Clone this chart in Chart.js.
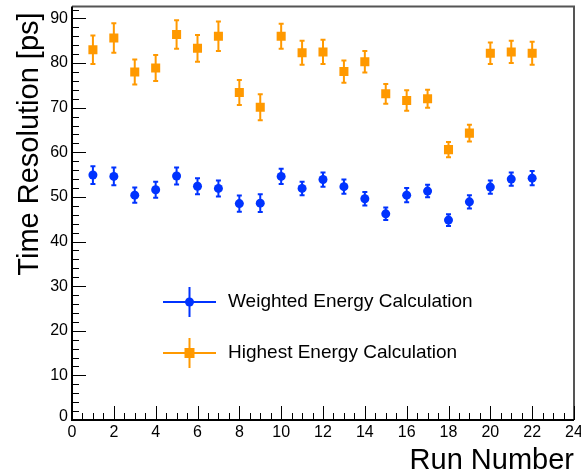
<!DOCTYPE html>
<html>
<head>
<meta charset="utf-8">
<script src="https://cdn.jsdelivr.net/npm/chart.js@4/dist/chart.umd.min.js"></script>
<style>
  html, body { margin: 0; padding: 0; background: #fff; }
  #wrap { width: 581px; height: 476px; }
</style>
</head>
<body>
<div id="wrap"><canvas id="myChart" width="581" height="476"></canvas></div>
<script>
// run numbers
const runs = [1, 2, 3, 4, 5, 6, 7, 8, 9, 10, 11, 12, 13, 14, 15, 16, 17, 18, 19, 20, 21, 22];

// weighted energy calculation (blue)
const weighted = [54.9, 54.6, 50.4, 51.6, 54.7, 52.4, 51.9, 48.5, 48.6, 54.6, 51.9, 53.9,
    52.3, 49.6, 46.2, 50.4, 51.3, 44.8, 48.9, 52.2, 54.0, 54.2];
const weightedErr = [2.0, 2.0, 1.7, 1.8, 1.9, 1.8, 1.8, 1.8, 2.0, 1.7, 1.5, 1.6,
    1.6, 1.5, 1.4, 1.6, 1.4, 1.3, 1.5, 1.5, 1.5, 1.6];

// highest energy calculation (orange)
const highest = [83.0, 85.6, 78.0, 78.9, 86.4, 83.3, 86.0, 73.4, 70.1, 86.0, 82.3, 82.5,
    78.1, 80.3, 73.1, 71.6, 72.0, 60.6, 64.3, 82.2, 82.5, 82.2];
const highestErr = [3.2, 3.3, 2.8, 2.9, 3.2, 3.0, 3.3, 2.8, 2.9, 2.8, 2.7, 2.7,
    2.5, 2.4, 2.2, 2.3, 2.0, 1.7, 1.9, 2.4, 2.5, 2.6];

const xTicks = [0, 2, 4, 6, 8, 10, 12, 14, 16, 18, 20, 22, 24];
const yTicks = [0, 10, 20, 30, 40, 50, 60, 70, 80, 90];

const BLUE = '#0033ff';
const ORANGE = '#ff9900';
const FONT = '"Liberation Sans", Arial, sans-serif';

function pts(ys, errs) {
    return runs.map((r, i) => ({x: r, y: ys[i], err: errs[i]}));
}

// error bars drawn with the chart's scales
const errorBars = {
    id: 'errorBars',
    beforeDatasetsDraw(chart) {
        const ctx = chart.ctx;
        const xs = chart.scales.x, ys = chart.scales.y;
        chart.data.datasets.forEach(ds => {
            ctx.save();
            ctx.strokeStyle = ds.borderColor;
            ctx.lineWidth = 2;
            ds.data.forEach(p => {
                const px = xs.getPixelForValue(p.x);
                const top = ys.getPixelForValue(p.y + p.err);
                const bot = ys.getPixelForValue(p.y - p.err);
                ctx.beginPath();
                ctx.moveTo(px, top); ctx.lineTo(px, bot);
                ctx.moveTo(px - 2.5, top); ctx.lineTo(px + 2.5, top);
                ctx.moveTo(px - 2.5, bot); ctx.lineTo(px + 2.5, bot);
                ctx.stroke();
            });
            ctx.restore();
        });
    }
};

// ROOT style frame, inward ticks, labels, titles and legend
const rootFrame = {
    id: 'rootFrame',
    afterDraw(chart) {
        const ctx = chart.ctx;
        const a = chart.chartArea;
        const xs = chart.scales.x, ys = chart.scales.y;
        ctx.save();

        // top / right frame
        ctx.strokeStyle = '#555';
        ctx.lineWidth = 2;
        ctx.beginPath();
        ctx.moveTo(a.left, a.top); ctx.lineTo(a.right, a.top); ctx.lineTo(a.right, a.bottom);
        ctx.stroke();

        // axes
        ctx.strokeStyle = '#000';
        ctx.lineWidth = 2;
        ctx.beginPath();
        ctx.moveTo(a.left, a.top); ctx.lineTo(a.left, a.bottom); ctx.lineTo(a.right, a.bottom);
        ctx.stroke();

        // ticks
        ctx.lineWidth = 1;
        ctx.beginPath();
        for (let v = 0; v <= 24.001; v += 0.5) {
            const px = Math.round(xs.getPixelForValue(v)) + 0.5;
            const len = (Math.abs(v / 2 - Math.round(v / 2)) < 1e-6) ? 14 : 7;
            ctx.moveTo(px, a.bottom); ctx.lineTo(px, a.bottom - len);
        }
        for (let v = 0; v <= ys.max + 0.001; v += 2) {
            const py = Math.round(ys.getPixelForValue(v)) + 0.5;
            const len = (v % 10 === 0) ? 14 : 7;
            ctx.moveTo(a.left, py); ctx.lineTo(a.left + len, py);
        }
        ctx.stroke();

        // tick labels
        ctx.fillStyle = '#000';
        ctx.font = '16px ' + FONT;
        ctx.textAlign = 'center';
        ctx.textBaseline = 'top';
        xTicks.forEach(v => ctx.fillText(String(v), xs.getPixelForValue(v), a.bottom + 5));
        ctx.textAlign = 'right';
        ctx.textBaseline = 'middle';
        yTicks.forEach(v => {
            const py = ys.getPixelForValue(v) - (v === 0 ? 3 : 0);
            ctx.fillText(String(v), a.left - 4, py);
        });

        // axis titles
        ctx.font = '29px ' + FONT;
        ctx.textAlign = 'right';
        ctx.textBaseline = 'alphabetic';
        ctx.fillText('Run Number', a.right, 469);
        ctx.save();
        ctx.translate(38, a.top + 6);
        ctx.rotate(-Math.PI / 2);
        ctx.textAlign = 'right';
        ctx.fillText('Time Resolution [ps]', 0, 0);
        ctx.restore();

        // legend
        const entries = [
            {label: 'Weighted Energy Calculation', color: BLUE, style: 'circle', y: 302},
            {label: 'Highest Energy Calculation', color: ORANGE, style: 'rect', y: 353}
        ];
        entries.forEach(e => {
            ctx.strokeStyle = e.color;
            ctx.fillStyle = e.color;
            ctx.lineWidth = 2;
            ctx.beginPath();
            ctx.moveTo(163, e.y); ctx.lineTo(216, e.y);
            ctx.moveTo(189.5, e.y - 15); ctx.lineTo(189.5, e.y + 15);
            ctx.stroke();
            ctx.beginPath();
            if (e.style === 'circle') {
                ctx.arc(189.5, e.y, 4.5, 0, Math.PI * 2);
            } else {
                ctx.rect(184.5, e.y - 5, 10, 10);
            }
            ctx.fill();
            ctx.fillStyle = '#000';
            ctx.font = '19px ' + FONT;
            ctx.textAlign = 'left';
            ctx.textBaseline = 'middle';
            ctx.fillText(e.label, 228, e.y);
        });
        ctx.restore();
    }
};

const data = {
    datasets: [{
        label: 'Weighted Energy Calculation',
        data: pts(weighted, weightedErr),
        borderColor: BLUE,
        backgroundColor: BLUE,
        pointStyle: 'circle',
        pointRadius: 4.5,
        pointBorderWidth: 0,
        showLine: false
    }, {
        label: 'Highest Energy Calculation',
        data: pts(highest, highestErr),
        borderColor: ORANGE,
        backgroundColor: ORANGE,
        pointStyle: 'rect',
        pointRadius: 6.4,
        pointBorderWidth: 0,
        showLine: false
    }]
};

const config = {
    type: 'scatter',
    data: data,
    options: {
        responsive: false,
        animation: false,
        events: [],
        layout: {padding: {left: 72, right: 7, top: 6, bottom: 56}},
        plugins: {legend: {display: false}, tooltip: {enabled: false}},
        scales: {
            x: {type: 'linear', min: 0, max: 24, display: false},
            y: {type: 'linear', min: 0, max: 92.7, display: false}
        }
    },
    plugins: [errorBars, rootFrame]
};

const myChart = new Chart(document.getElementById('myChart'), config);
</script>
</body>
</html>
